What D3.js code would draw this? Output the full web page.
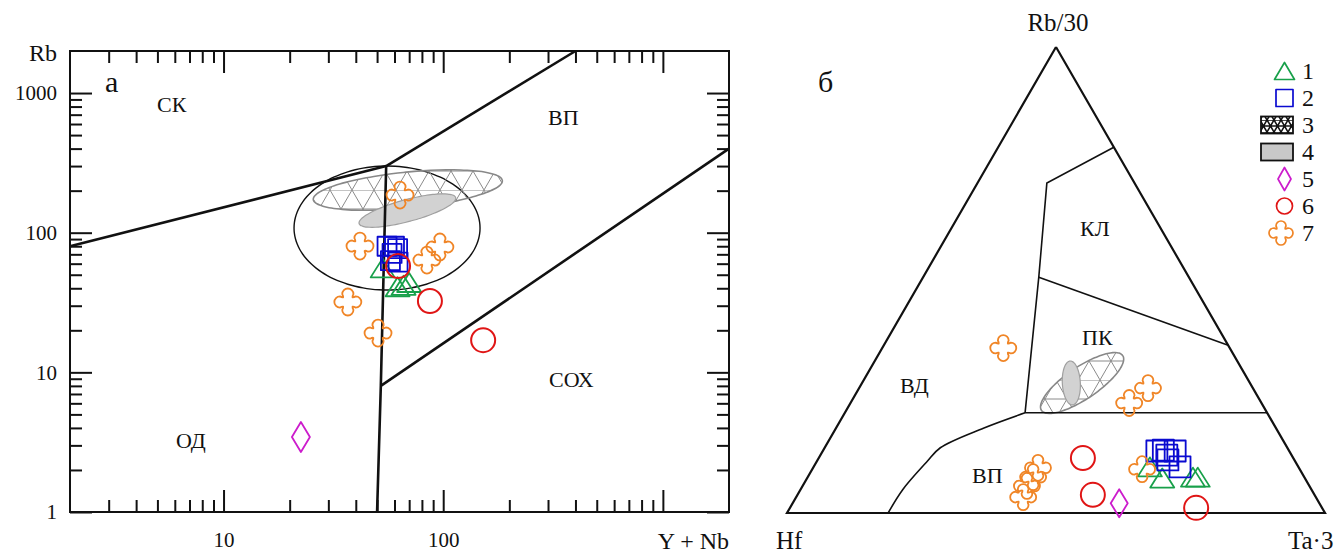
<!DOCTYPE html>
<html>
<head>
<meta charset="utf-8">
<script src="https://cdn.jsdelivr.net/npm/d3@7"></script>
<style>
  body { margin: 0; background: #fff; }
  text { font-family: "Liberation Serif", "Tinos", "DejaVu Serif", serif; fill: #111; }
</style>
</head>
<body>
<svg id="chart"></svg>
<script>
// ---- diagram (а): Rb vs Y + Nb, ppm
var triYNb = [53, 62, 66, 70];
var triRb = [56, 41, 42, 44];
var sqYNb = [55.5, 60, 62, 58.5, 57.5, 62.3];
var sqRb = [80, 80, 77, 71, 63, 61.6];
var circYNb = [62.3, 87, 152];
var circRb = [57.7, 32.4, 17];
var diaYNb = [22.5];
var diaRb = [3.44];
var crossYNb = [63.6, 41.8, 96.6, 84.3, 36.8, 50.5];
var crossRb = [186, 80.2, 79, 63.7, 31.9, 19.1];

// field boundaries (Y+Nb, Rb)
var lineSynVag = [[2, 80], [55, 300]];
var lineSynWpg = [[55, 300], [400, 2000]];
var lineVagWpg = [[55, 300], [52, 8], [50, 1]];
var lineOrgWpg = [[52, 8], [2000, 400]];

// field centres (Y+Nb, Rb): post-collision ellipse, field 3, field 4
var postColCentre = [55.5, 108];
var field3Centre = [69, 202];
var field4Centre = [68.7, 144];

var xMajor = [10, 100, 1000];
var xMinor = [3, 4, 5, 6, 7, 8, 9, 20, 30, 40, 50, 60, 70, 80, 90, 200, 300, 400, 500, 600, 700, 800, 900];
var xLabels = [10, 100];
var yMajor = [1, 10, 100, 1000];
var yMinor = [2, 3, 4, 5, 6, 7, 8, 9, 20, 30, 40, 50, 60, 70, 80, 90, 200, 300, 400, 500, 600, 700, 800, 900];

// ---- diagram (б): Rb/30 - Hf - Ta*3, percent [Rb/30, Hf, Ta*3]
var triTern = [[9.9, 27.6, 62.5], [7.5, 26.5, 66], [7.7, 20.7, 71.6], [7.7, 19.8, 72.5]];
var sqTern = [[13.3, 24.6, 62.1], [13.5, 23.3, 63.2], [13.3, 21.2, 65.5], [12.4, 23.2, 64.4], [11.4, 23.5, 65.1], [9.9, 22, 68.1]];
var circTern = [[11.8, 39.1, 49.1], [3.9, 41.2, 54.9], [1.1, 23.4, 75.5]];
var diaTern = [[2.1, 37.2, 60.7]];
var crossTern = [[35.4, 42.1, 22.5], [23.6, 24.6, 51.8], [26.8, 19.5, 53.7], [9.7, 48.5, 41.8],
                 [7.7, 50.4, 41.9], [5.8, 52.5, 41.7], [3.4, 54.4, 42.2], [9.4, 29.3, 61.3]];

var ternOutline = [[100, 0, 0], [0, 100, 0], [0, 0, 100], [100, 0, 0]];
var ternLow = [[21.5, 0, 78.5], [21.5, 45, 33.5]];
var ternCurve = [[21.5, 45, 33.5], [18.2, 54.4, 27.4], [14, 64.5, 21.5], [11, 68.5, 20.5], [5, 76, 19], [0, 81.2, 18.8]];
var ternUp = [[21.5, 45, 33.5], [50.6, 27.9, 21.5], [70.8, 16.3, 12.9], [78.5, 0, 21.5]];
var ternMid = [[50.6, 27.9, 21.5], [36, 0, 64]];
var ternField3 = [27.9, 31.2, 40.9];
var ternField4 = [27.9, 33.2, 38.9];

var legendLabels = ["1", "2", "3", "4", "5", "6", "7"];

// colours
var cTri = "#18a04a", cSq = "#0a0ad0", cCirc = "#e01515", cDia = "#cc1ccc", cCross = "#f08526";

var svg = d3.select("#chart").attr("width", 1336).attr("height", 553);

var defs = svg.append("defs");
defs.append("pattern").attr("id", "mesh").attr("patternUnits", "userSpaceOnUse")
  .attr("width", 22).attr("height", 38)
  .append("path").attr("d", "M0,0L22,38M22,0L0,38M0,0L22,0M0,19L22,19")
  .attr("stroke", "#8a8a8a").attr("stroke-width", 1).attr("fill", "none");
var dense = defs.append("pattern").attr("id", "meshDense").attr("patternUnits", "userSpaceOnUse")
  .attr("width", 7).attr("height", 12);
dense.append("rect").attr("width", 7).attr("height", 12).attr("fill", "#fff");
dense.append("path").attr("d", "M0,0L7,12M7,0L0,12M0,0L7,0M0,6L7,6")
  .attr("stroke", "#111").attr("stroke-width", 1.6).attr("fill", "none");

// symbol paths
function triPath(w, h) { return "M0," + (-h / 2) + "L" + (w / 2) + "," + (h / 2) + "L" + (-w / 2) + "," + (h / 2) + "Z"; }
function sqPath(s) { return "M" + (-s / 2) + "," + (-s / 2) + "h" + s + "v" + s + "h" + (-s) + "Z"; }
function diaPath(w, h) { return "M0," + (-h / 2) + "L" + (w / 2) + ",0L0," + (h / 2) + "L" + (-w / 2) + ",0Z"; }
function circPath(r) { return "M" + (-r) + ",0A" + r + "," + r + " 0 1 0 " + r + ",0A" + r + "," + r + " 0 1 0 " + (-r) + ",0Z"; }
// four-lobed cross: rounded tips, slight neck, soft inner corners
function crossPath(R, h) {
  var k = R - h, c = h * 0.84, p1 = h * 0.8, p2 = h * 1.05;
  var rot = [[1, 0, 0, 1], [0, -1, 1, 0], [-1, 0, 0, -1], [0, 1, -1, 0]];
  function r(m, xx, yy) { return (m[0] * xx + m[1] * yy).toFixed(2) + "," + (m[2] * xx + m[3] * yy).toFixed(2); }
  var d = "M" + r(rot[0], -h, -k);
  rot.forEach(function (m) {
    d += "A" + h + "," + h + " 0 0 1 " + r(m, h, -k);
    d += "Q" + r(m, p1, -p2) + " " + r(m, c, -c);
    d += "Q" + r(m, p2, -p1) + " " + r(m, k, -h);
  });
  return d + "Z";
}

function ellipsePts(cx, cy, rx, ry, angDeg) {
  var a = angDeg * Math.PI / 180, pts = [];
  for (var i = 0; i < 72; i++) {
    var t = i / 72 * 2 * Math.PI;
    var ex = rx * Math.cos(t), ey = ry * Math.sin(t);
    pts.push([cx + ex * Math.cos(a) - ey * Math.sin(a), cy + ex * Math.sin(a) + ey * Math.cos(a)]);
  }
  return pts;
}
var closedLine = d3.line().curve(d3.curveCardinalClosed);

function drawMarks(g, px, py, n, d, color, sw) {
  for (var i = 0; i < n; i++) {
    g.append("path").attr("d", d).attr("transform", "translate(" + px(i) + "," + py(i) + ")")
      .attr("fill", "none").attr("stroke", color).attr("stroke-width", sw).attr("stroke-linejoin", "round");
  }
}

// ================= diagram а =================
var x = d3.scaleLog().domain([2, 2000]).range([70, 729]);
var y = d3.scaleLog().domain([1, 2000]).range([512, 51]);
var left = svg.append("g");

// fields
var pc = [x(postColCentre[0]), y(postColCentre[1])];
left.append("path").attr("d", closedLine(ellipsePts(pc[0], pc[1], 93, 62, 0)))
  .attr("fill", "none").attr("stroke", "#111").attr("stroke-width", 1.4);
var f3 = [x(field3Centre[0]), y(field3Centre[1])];
left.append("path").attr("d", closedLine(ellipsePts(f3[0], f3[1], 95, 18, -5.7)))
  .attr("fill", "url(#mesh)").attr("stroke", "#888").attr("stroke-width", 1.6);
var f4 = [x(field4Centre[0]), y(field4Centre[1])];
left.append("path").attr("d", closedLine(ellipsePts(f4[0], f4[1], 50, 11, -15)))
  .attr("fill", "#d2d2d2").attr("stroke", "#a0a0a0").attr("stroke-width", 1.2);

// boundaries
var bLine = d3.line().x(function (d) { return x(d[0]); }).y(function (d) { return y(d[1]); });
[lineSynVag, lineSynWpg, lineVagWpg, lineOrgWpg].forEach(function (l) {
  left.append("path").attr("d", bLine(l)).attr("fill", "none").attr("stroke", "#111").attr("stroke-width", 2.6);
});

// axes
function styleAxis(g) {
  g.select(".domain").remove();
  g.selectAll(".tick line").attr("stroke", "#111").attr("stroke-width", 2);
  g.selectAll(".tick text").attr("font-size", 21).attr("fill", "#111").attr("font-family", null);
}
left.append("g").attr("transform", "translate(0,512)")
  .call(d3.axisBottom(x).tickValues(xMajor).tickSize(-22).tickSizeOuter(0).tickPadding(20)
    .tickFormat(function (d) { return xLabels.indexOf(d) >= 0 ? d : ""; })).call(styleAxis);
left.append("g").attr("transform", "translate(0,512)")
  .call(d3.axisBottom(x).tickValues(xMinor).tickSize(-12).tickSizeOuter(0).tickFormat("")).call(styleAxis);
left.append("g").attr("transform", "translate(0,51)")
  .call(d3.axisTop(x).tickValues(xMajor).tickSize(-22).tickSizeOuter(0).tickFormat("")).call(styleAxis);
left.append("g").attr("transform", "translate(0,51)")
  .call(d3.axisTop(x).tickValues(xMinor).tickSize(-12).tickSizeOuter(0).tickFormat("")).call(styleAxis);
left.append("g").attr("transform", "translate(70,0)")
  .call(d3.axisLeft(y).tickValues(yMajor).tickSize(-22).tickSizeOuter(0).tickPadding(13)
    .tickFormat(function (d) { return d; })).call(styleAxis);
left.append("g").attr("transform", "translate(70,0)")
  .call(d3.axisLeft(y).tickValues(yMinor).tickSize(-12).tickSizeOuter(0).tickFormat("")).call(styleAxis);
left.append("g").attr("transform", "translate(729,0)")
  .call(d3.axisRight(y).tickValues(yMajor).tickSize(-22).tickSizeOuter(0).tickFormat("")).call(styleAxis);
left.append("g").attr("transform", "translate(729,0)")
  .call(d3.axisRight(y).tickValues(yMinor).tickSize(-12).tickSizeOuter(0).tickFormat("")).call(styleAxis);

left.append("rect").attr("x", 70).attr("y", 51).attr("width", 659).attr("height", 461)
  .attr("fill", "none").attr("stroke", "#111").attr("stroke-width", 2);

// marks
drawMarks(left, function (i) { return x(triYNb[i]); }, function (i) { return y(triRb[i]); }, triYNb.length, triPath(24, 19), cTri, 1.8);
drawMarks(left, function (i) { return x(sqYNb[i]); }, function (i) { return y(sqRb[i]); }, sqYNb.length, sqPath(19), cSq, 1.8);
drawMarks(left, function (i) { return x(circYNb[i]); }, function (i) { return y(circRb[i]); }, circYNb.length, circPath(12), cCirc, 2);
drawMarks(left, function (i) { return x(diaYNb[i]); }, function (i) { return y(diaRb[i]); }, diaYNb.length, diaPath(18, 30), cDia, 1.8);
drawMarks(left, function (i) { return x(crossYNb[i]); }, function (i) { return y(crossRb[i]); }, crossYNb.length, crossPath(13.5, 5.6), cCross, 1.8);

// texts
left.append("text").attr("x", 29).attr("y", 61).attr("font-size", 24).text("Rb");
left.append("text").attr("x", 729).attr("y", 549).attr("text-anchor", "end").attr("font-size", 24).text("Y + Nb");
left.append("text").attr("x", 105).attr("y", 92).attr("font-size", 30).text("а");
left.append("text").attr("x", 157).attr("y", 112).attr("font-size", 22).text("СК");
left.append("text").attr("x", 548).attr("y", 125).attr("font-size", 22).text("ВП");
left.append("text").attr("x", 549).attr("y", 387).attr("font-size", 22).text("СОХ");
left.append("text").attr("x", 176).attr("y", 448).attr("font-size", 22).text("ОД");

// ================= diagram б =================
var tx = d3.scaleLinear().domain([0, 1]).range([787, 1325]);
var ty = d3.scaleLinear().domain([0, 1]).range([513, 47]);
function proj(p) {
  var s = p[0] + p[1] + p[2], A = p[0] / s, C = p[2] / s;
  return [tx(C + A / 2), ty(A)];
}
var right = svg.append("g");

var t3 = proj(ternField3);
right.append("path").attr("d", closedLine(ellipsePts(t3[0], t3[1], 49, 16, -34)))
  .attr("fill", "url(#mesh)").attr("stroke", "#888").attr("stroke-width", 1.6);
var t4 = proj(ternField4);
right.append("path").attr("d", closedLine(ellipsePts(t4[0], t4[1], 9, 22, -3)))
  .attr("fill", "#d2d2d2").attr("stroke", "#a0a0a0").attr("stroke-width", 1.2);

var tLine = d3.line().x(function (d) { return proj(d)[0]; }).y(function (d) { return proj(d)[1]; });
right.append("path").attr("d", tLine(ternOutline)).attr("fill", "none").attr("stroke", "#111").attr("stroke-width", 2.2);
[ternLow, ternUp, ternMid].forEach(function (l) {
  right.append("path").attr("d", tLine(l)).attr("fill", "none").attr("stroke", "#111").attr("stroke-width", 1.6);
});
right.append("path").attr("d", tLine.curve(d3.curveCatmullRom)(ternCurve)).attr("fill", "none").attr("stroke", "#111").attr("stroke-width", 1.6);

function tx_(arr) { return function (i) { return proj(arr[i])[0]; }; }
function ty_(arr) { return function (i) { return proj(arr[i])[1]; }; }
drawMarks(right, tx_(triTern), ty_(triTern), triTern.length, triPath(24, 19), cTri, 1.8);
drawMarks(right, tx_(sqTern), ty_(sqTern), sqTern.length, sqPath(21), cSq, 1.8);
drawMarks(right, tx_(circTern), ty_(circTern), circTern.length, circPath(12), cCirc, 2);
drawMarks(right, tx_(diaTern), ty_(diaTern), diaTern.length, diaPath(17, 28), cDia, 1.8);
drawMarks(right, tx_(crossTern), ty_(crossTern), crossTern.length, crossPath(13, 5.4), cCross, 1.8);

right.append("text").attr("x", 1058).attr("y", 31).attr("text-anchor", "middle").attr("font-size", 25).text("Rb/30");
right.append("text").attr("x", 776).attr("y", 549).attr("font-size", 25).text("Hf");
right.append("text").attr("x", 1288).attr("y", 549).attr("font-size", 25).text("Ta·3");
right.append("text").attr("x", 818).attr("y", 92).attr("font-size", 30).text("б");
right.append("text").attr("x", 1080).attr("y", 236).attr("font-size", 22).text("КЛ");
right.append("text").attr("x", 1082).attr("y", 345).attr("font-size", 22).text("ПК");
right.append("text").attr("x", 900).attr("y", 393).attr("font-size", 22).text("ВД");
right.append("text").attr("x", 972).attr("y", 483).attr("font-size", 22).text("ВП");

// legend
var ly = d3.scalePoint().domain(legendLabels).range([71, 233]);
var leg = svg.append("g");
var legMarks = [
  { d: triPath(20, 17), c: cTri }, { d: sqPath(17), c: cSq }, null, null,
  { d: diaPath(13, 23), c: cDia }, { d: circPath(8), c: cCirc }, { d: crossPath(12, 5), c: cCross }
];
legendLabels.forEach(function (lab, i) {
  var yy = ly(lab);
  if (lab === "3" || lab === "4") {
    leg.append("rect").attr("x", 1261).attr("y", yy - 8.5).attr("width", 32).attr("height", 17)
      .attr("fill", lab === "3" ? "url(#meshDense)" : "#c8c8c8").attr("stroke", "#111").attr("stroke-width", 1.8);
  } else {
    leg.append("path").attr("d", legMarks[i].d).attr("transform", "translate(" + (i === 6 ? 1281 : 1284.5) + "," + yy + ")")
      .attr("fill", "none").attr("stroke", legMarks[i].c).attr("stroke-width", 1.7).attr("stroke-linejoin", "round");
  }
  leg.append("text").attr("x", 1302).attr("y", yy + 8).attr("font-size", 24).text(lab);
});
</script>
</body>
</html>
